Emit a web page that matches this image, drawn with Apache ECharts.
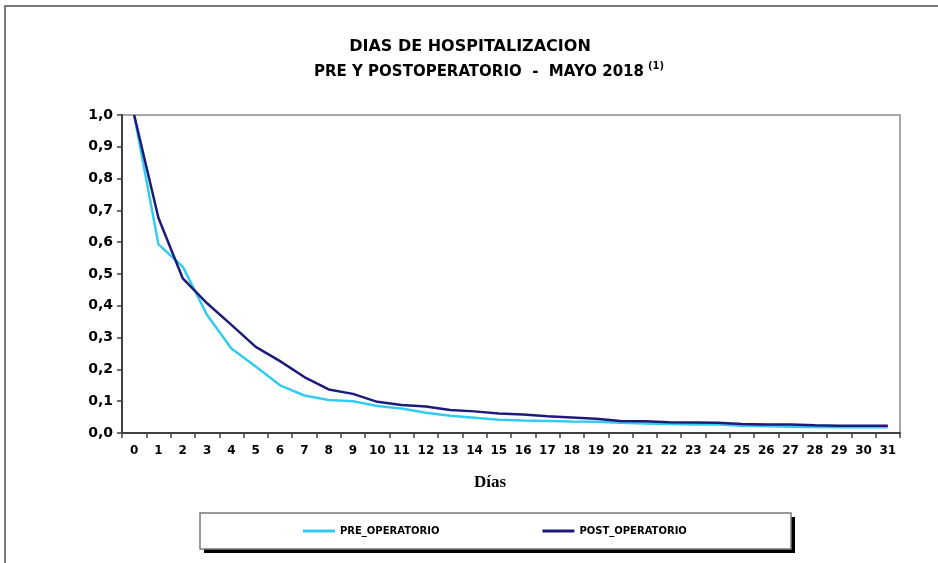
<!DOCTYPE html>
<html>
<head>
<meta charset="utf-8">
<script src="https://cdn.jsdelivr.net/npm/echarts@6/dist/echarts.min.js"></script>
<style>
html,body{margin:0;padding:0;background:#fff;}
#c{width:938px;height:563px;}
</style>
</head>
<body>
<div id="c"></div>
<script>
const categories = ['0','1','2','3','4','5','6','7','8','9','10','11','12','13','14','15','16','17','18','19','20','21','22','23','24','25','26','27','28','29','30','31'];
const preOperatorio = [1.0, 0.593, 0.523, 0.371, 0.266, 0.209, 0.150, 0.118, 0.104, 0.100, 0.085, 0.077, 0.064, 0.054, 0.048, 0.042, 0.039, 0.038, 0.036, 0.035, 0.032, 0.030, 0.028, 0.027, 0.027, 0.023, 0.021, 0.020, 0.019, 0.018, 0.018, 0.018];
const postOperatorio = [1.0, 0.676, 0.486, 0.408, 0.340, 0.271, 0.226, 0.176, 0.137, 0.123, 0.098, 0.088, 0.083, 0.072, 0.068, 0.061, 0.058, 0.053, 0.049, 0.045, 0.038, 0.037, 0.034, 0.033, 0.032, 0.028, 0.027, 0.027, 0.024, 0.023, 0.023, 0.023];
const seriesNames = ['PRE_OPERATORIO', 'POST_OPERATORIO'];
const titleLine1 = 'DIAS DE HOSPITALIZACION';
const titleLine2 = 'PRE Y POSTOPERATORIO  -  MAYO 2018';
const titleNote = '(1)';
const xAxisTitle = 'Días';

const chart = echarts.init(document.getElementById('c'), null, {renderer: 'canvas'});
const F = 'DejaVu Sans';
chart.setOption({
  animation: false,
  backgroundColor: '#fff',
  grid: {left: 122, top: 115, right: 38, bottom: 130, show: true, borderColor: '#8c8c8c', borderWidth: 1.5, backgroundColor: 'transparent'},
  graphic: [
    {type: 'rect', shape: {x: 5, y: 6, width: 940, height: 570}, style: {fill: 'none', stroke: '#7a7a7a', lineWidth: 2}, z: -10},
    {type: 'rect', shape: {x: 204, y: 517, width: 591, height: 36}, style: {fill: '#000'}, z: 0},
    {type: 'rect', shape: {x: 200, y: 513, width: 591, height: 36}, style: {fill: '#fff', stroke: '#7a7a7a', lineWidth: 1.5}, z: 1},
    {type: 'text', x: 470, y: 47, style: {text: titleLine1, font: 'bold 16px "DejaVu Sans"', fill: '#000', align: 'center', verticalAlign: 'middle'}, z: 5},
    {type: 'text', x: 479, y: 72, style: {text: titleLine2, font: 'bold 15px "DejaVu Sans"', fill: '#000', align: 'center', verticalAlign: 'middle'}, z: 5},
    {type: 'text', x: 648, y: 66, style: {text: titleNote, font: 'bold 10px "DejaVu Sans"', fill: '#000', align: 'left', verticalAlign: 'middle'}, z: 5},
    {type: 'text', x: 490, y: 483, style: {text: xAxisTitle, font: 'bold 17px "Liberation Serif"', fill: '#000', align: 'center', verticalAlign: 'middle'}, z: 5}
  ],
  legend: {
    left: 303, top: 526, padding: 0, itemWidth: 32, itemHeight: 3, itemGap: 103,
    icon: 'rect',
    data: seriesNames, z: 10,
    textStyle: {fontFamily: F, fontWeight: 'bold', fontSize: 10, color: '#000'}
  },
  xAxis: {
    type: 'category', data: categories, boundaryGap: true,
    axisLine: {lineStyle: {color: '#404040', width: 2}},
    axisTick: {show: true, interval: 0, alignWithLabel: false, length: 5, lineStyle: {color: '#404040', width: 1.5}},
    axisLabel: {interval: 0, margin: 12, fontFamily: F, fontWeight: 'bold', fontSize: 12, color: '#000'},
    splitLine: {show: false}
  },
  yAxis: {
    type: 'value', min: 0, max: 1, interval: 0.1,
    axisLine: {show: true, lineStyle: {color: '#404040', width: 2}},
    axisTick: {show: true, length: 5, lineStyle: {color: '#404040', width: 1.5}},
    axisLabel: {margin: 9, fontFamily: F, fontWeight: 'bold', fontSize: 14, color: '#000',
      formatter: v => v.toFixed(1).replace('.', ',')},
    splitLine: {show: false}
  },
  series: [
    {name: seriesNames[0], type: 'line', data: preOperatorio, symbol: 'none', lineStyle: {color: '#33ccf0', width: 2.5}, itemStyle: {color: '#33ccf0'}, z: 3},
    {name: seriesNames[1], type: 'line', data: postOperatorio, symbol: 'none', lineStyle: {color: '#1c1c78', width: 2.5}, itemStyle: {color: '#1c1c78'}, z: 4}
  ]
});
</script>
</body>
</html>
